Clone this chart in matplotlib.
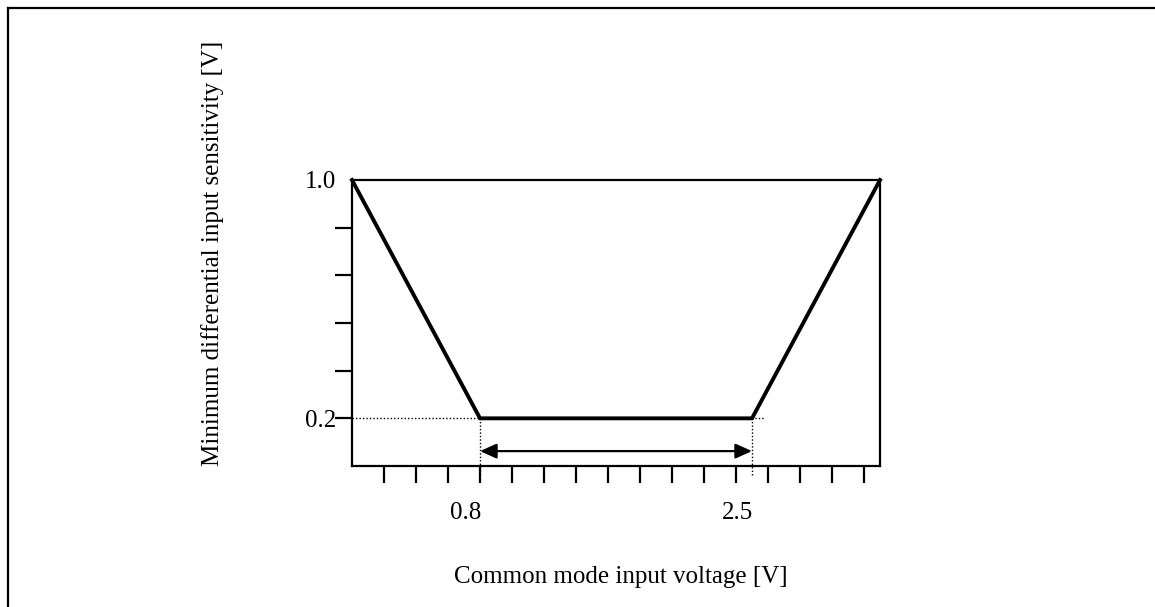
import matplotlib
matplotlib.use("Agg")
import matplotlib.pyplot as plt
from matplotlib.lines import Line2D
import numpy as np

# Sensitivity envelope: common-mode voltage vs. minimum differential input
cm_voltage = [0.0, 0.8, 2.5, 3.3]
min_sensitivity = [1.0, 0.2, 0.2, 1.0]

x_ticks = np.round(np.arange(0.2, 3.21, 0.2), 2)
y_ticks = [0.2, 0.36, 0.52, 0.68, 0.84]
x_labels = {0.8: "0.8", 2.5: "2.5"}
y_labels = {1.0: "1.0", 0.2: "0.2"}
range_lo, range_hi = 0.8, 2.5
threshold = 0.2
arrow_level = 0.09

plt.rcParams["font.family"] = ["Liberation Serif", "DejaVu Serif"]

fig = plt.figure(figsize=(11.55, 6.07), dpi=100)
ax = fig.add_axes([352 / 1155, 1 - 466 / 607, 528 / 1155, 286 / 607])

ax.plot(cm_voltage, min_sensitivity, color="black", lw=2.8,
        solid_joinstyle="miter", clip_on=False, zorder=3)

# Dotted guides at the threshold and at the ends of the flat range
ax.plot([0.0, 2.58], [threshold, threshold], color="black", lw=1.0,
        ls=(0, (1, 1.5)), zorder=2)
for xv in (range_lo, range_hi):
    ax.plot([xv, xv], [threshold, 0.005], color="black", lw=1.0,
            ls=(0, (1, 1.5)), clip_on=False, zorder=2)

# Double-headed arrow spanning the valid range
ax.annotate("", xy=(range_lo, arrow_level), xytext=(range_hi, arrow_level),
            arrowprops=dict(arrowstyle="<|-|>,head_length=1.0,head_width=0.45",
                            color="black", lw=1.6, shrinkA=0, shrinkB=0))

ax.set_xlim(0.0, 3.3)
ax.set_ylim(0.04, 1.0)

ax.set_xticks(x_ticks)
ax.set_yticks(y_ticks)
ax.set_xticklabels([])
ax.set_yticklabels([])
ax.tick_params(direction="out", length=12, width=1.6, color="black")

for sp in ax.spines.values():
    sp.set_linewidth(1.6)

xtrans = ax.get_xaxis_transform()
for xv, lab in x_labels.items():
    ax.text(xv + 0.01, -0.185, lab, transform=xtrans, ha="right",
            va="baseline", fontsize=18)

ytrans = ax.get_yaxis_transform()
for yv, lab in y_labels.items():
    ax.text(-0.03, yv, lab, transform=ytrans, ha="right",
            va="center_baseline", fontsize=18)

fig.text(621 / 1155, 1 - 583 / 607, "Common mode input voltage [V]",
         ha="center", va="baseline", fontsize=18)
fig.text(213 / 1155, 1 - 253 / 607, "Minimum differential input sensitivity [V]",
         ha="center", va="center", rotation=90, fontsize=18)

# Frame around the drawing area (top and left edges)
fig.add_artist(Line2D([8 / 1155, 8 / 1155], [0, 1 - 8 / 607],
                      transform=fig.transFigure, color="black", lw=1.6))
fig.add_artist(Line2D([8 / 1155, 1], [1 - 8 / 607, 1 - 8 / 607],
                      transform=fig.transFigure, color="black", lw=1.6))

fig.savefig("out.png", dpi=100, facecolor="white")
